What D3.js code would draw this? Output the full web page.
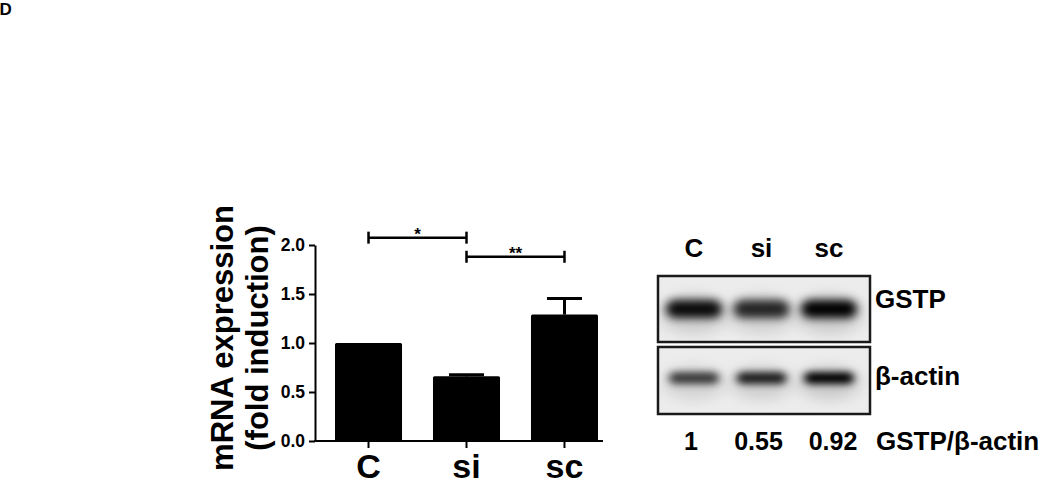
<!DOCTYPE html>
<html>
<head>
<meta charset="utf-8">
<script src="https://cdn.jsdelivr.net/npm/d3@7"></script>
<style>
  body { margin: 0; background: #fff; }
  text { font-family: "Liberation Sans", Arial, sans-serif; font-weight: bold; fill: #000; }
</style>
</head>
<body>
<div id="chart"></div>
<script>
// qPCR bar chart data
const groups = ["C", "si", "sc"];
const means = [1.0, 0.66, 1.29];
const errors = [0, 0.015, 0.165];
const yTicks = [0, 0.5, 1.0, 1.5, 2.0];

// significance brackets
const sigFrom = ["C", "si"];
const sigTo = ["si", "sc"];
const sigLevel = [2.075, 1.88];
const sigLabel = ["*", "**"];

// western blot data (band darkness, 0..1)
const lanes = ["C", "si", "sc"];
const gstpBand = [0.95, 0.82, 1.0];
const actinBand = [0.72, 0.86, 1.0];
const ratios = ["1", "0.55", "0.92"];

const svg = d3.select("#chart")
    .append("svg")
    .attr("width", 1050)
    .attr("height", 488);

// panel letter
svg.append("text")
    .attr("x", -0.5)
    .attr("y", 15)
    .attr("font-size", 17)
    .style("font-size", "17px")
    .text("D");

// ---- bar chart ----
const x = d3.scaleBand()
    .domain(groups)
    .range([335, 598])
    .paddingInner(0.316)
    .paddingOuter(0);

const y = d3.scaleLinear()
    .domain([0, 2])
    .range([441, 245]);

// bars
svg.selectAll(".bar")
    .data(groups)
    .enter().append("rect")
    .attr("class", "bar")
    .attr("x", d => x(d))
    .attr("y", (d, i) => y(means[i]))
    .attr("width", x.bandwidth())
    .attr("height", (d, i) => y(0) - y(means[i]))
    .attr("rx", 1.5)
    .style("fill", "#000");

// error bars (upper only)
const errG = svg.append("g");
groups.forEach((g, i) => {
    if (!errors[i]) return;
    const cx = x(g) + x.bandwidth() / 2;
    errG.append("line")
        .attr("x1", cx).attr("x2", cx)
        .attr("y1", y(means[i])).attr("y2", y(means[i] + errors[i]))
        .style("stroke", "#000").style("stroke-width", 3);
    errG.append("line")
        .attr("x1", cx - 17.5).attr("x2", cx + 17.5)
        .attr("y1", y(means[i] + errors[i])).attr("y2", y(means[i] + errors[i]))
        .style("stroke", "#000").style("stroke-width", 3);
});

// y axis
const yAxis = d3.axisLeft(y)
    .tickValues(yTicks)
    .tickFormat(d3.format(".1f"))
    .tickSize(6)
    .tickSizeOuter(0)
    .tickPadding(4);

const yG = svg.append("g")
    .attr("transform", "translate(315,0)")
    .call(yAxis);
yG.selectAll("path, line").style("stroke", "#000").style("stroke-width", 2);
yG.selectAll("text").style("font-size", "17.5px").style("font-family", "Liberation Sans, Arial, sans-serif").style("font-weight", "bold");

// x axis
const xAxis = d3.axisBottom(x).tickSize(7).tickSizeOuter(0).tickPadding(8);
const xG = svg.append("g")
    .attr("transform", "translate(0,441)")
    .call(xAxis);
xG.select(".domain").remove();
xG.append("line")
    .attr("x1", 314).attr("x2", 603)
    .style("stroke", "#000").style("stroke-width", 2);
xG.selectAll("line").style("stroke", "#000").style("stroke-width", 2);
xG.selectAll(".tick text")
    .attr("y", 37)
    .attr("dy", 0)
    .style("font-size", "34px")
    .style("font-family", "Liberation Sans, Arial, sans-serif")
    .style("font-weight", "bold");

// y axis title (two lines)
const titleLines = ["mRNA expression", "(fold induction)"];
const titleX = [233, 268];
svg.selectAll(".ytitle")
    .data(titleLines)
    .enter().append("text")
    .attr("class", "ytitle")
    .attr("transform", (d, i) => "translate(" + titleX[i] + ",338) rotate(-90)")
    .attr("text-anchor", "middle")
    .style("font-size", "31px")
    .text(d => d);

// significance brackets
const sigG = svg.append("g");
sigLabel.forEach((lab, i) => {
    const x1 = x(sigFrom[i]) + x.bandwidth() / 2;
    const x2 = x(sigTo[i]) + x.bandwidth() / 2;
    const yy = y(sigLevel[i]);
    sigG.append("line")
        .attr("x1", x1).attr("x2", x2).attr("y1", yy).attr("y2", yy)
        .style("stroke", "#000").style("stroke-width", 2.5);
    [x1, x2].forEach(xx => {
        sigG.append("line")
            .attr("x1", xx).attr("x2", xx).attr("y1", yy - 6).attr("y2", yy + 6)
            .style("stroke", "#000").style("stroke-width", 2.5);
    });
    sigG.append("text")
        .attr("x", (x1 + x2) / 2)
        .attr("y", yy + 2.5)
        .attr("text-anchor", "middle")
        .style("font-size", "17px")
        .text(lab);
});

// ---- western blot ----
const lx = d3.scalePoint()
    .domain(lanes)
    .range([694, 829]);

const dark = d3.scaleLinear().domain([0, 1]).range([0, 1]);

const defs = svg.append("defs");
defs.append("filter").attr("id", "blurG")
    .attr("x", "-50%").attr("y", "-100%").attr("width", "200%").attr("height", "300%")
    .append("feGaussianBlur").attr("stdDeviation", "5 4.5");
defs.append("filter").attr("id", "blurA")
    .attr("x", "-50%").attr("y", "-100%").attr("width", "200%").attr("height", "300%")
    .append("feGaussianBlur").attr("stdDeviation", "4.5 3.5");
defs.append("filter").attr("id", "haze")
    .attr("x", "-50%").attr("y", "-100%").attr("width", "200%").attr("height", "300%")
    .append("feGaussianBlur").attr("stdDeviation", "8 7");

const blots = [
    { name: "GSTP", vals: gstpBand, y0: 276, y1: 342, cy: 309, w: 56, h: 18, filt: "blurG", ly: 308 },
    { name: "\u03b2-actin", vals: actinBand, y0: 347, y1: 414, cy: 378, w: 50, h: 12, filt: "blurA", ly: 385 }
];

blots.forEach((b, k) => {
    const clipId = "clip" + k;
    defs.append("clipPath").attr("id", clipId)
        .append("rect")
        .attr("x", 658).attr("y", b.y0).attr("width", 212).attr("height", b.y1 - b.y0);

    svg.append("rect")
        .attr("x", 658).attr("y", b.y0).attr("width", 212).attr("height", b.y1 - b.y0)
        .style("fill", "#ececec");

    const g = svg.append("g").attr("clip-path", "url(#" + clipId + ")");

    // faint smear around each band
    g.selectAll(".haze")
        .data(lanes)
        .enter().append("ellipse")
        .attr("class", "haze")
        .attr("cx", d => lx(d))
        .attr("cy", b.cy + 5)
        .attr("rx", b.w / 2 + 6)
        .attr("ry", b.h / 2 + 10)
        .attr("filter", "url(#haze)")
        .style("fill", "#000")
        .style("opacity", (d, i) => 0.15 * dark(b.vals[i]));

    g.selectAll(".band")
        .data(lanes)
        .enter().append("rect")
        .attr("class", "band")
        .attr("x", d => lx(d) - b.w / 2)
        .attr("y", b.cy - b.h / 2)
        .attr("width", b.w)
        .attr("height", b.h)
        .attr("rx", b.h / 2)
        .attr("filter", "url(#" + b.filt + ")")
        .style("fill", "#000")
        .style("opacity", (d, i) => dark(b.vals[i]));

    svg.append("rect")
        .attr("x", 658).attr("y", b.y0).attr("width", 212).attr("height", b.y1 - b.y0)
        .style("fill", "none")
        .style("stroke", "#1a1a1a")
        .style("stroke-width", 2.5);

    svg.append("text")
        .attr("x", 875)
        .attr("y", b.ly)
        .style("font-size", "26px")
        .text(b.name);
});

// lane labels
svg.selectAll(".lane")
    .data(lanes)
    .enter().append("text")
    .attr("class", "lane")
    .attr("x", d => lx(d))
    .attr("y", 257)
    .attr("text-anchor", "middle")
    .style("font-size", "26px")
    .text(d => d);

// ratio row
svg.selectAll(".ratio")
    .data(ratios)
    .enter().append("text")
    .attr("class", "ratio")
    .attr("x", (d, i) => lx(lanes[i]) + (i === 2 ? 4 : -3))
    .attr("y", 450)
    .attr("text-anchor", "middle")
    .style("font-size", "25px")
    .text(d => d);

svg.append("text")
    .attr("x", 876)
    .attr("y", 450)
    .style("font-size", "26px")
    .text("GSTP/\u03b2-actin");
</script>
</body>
</html>
